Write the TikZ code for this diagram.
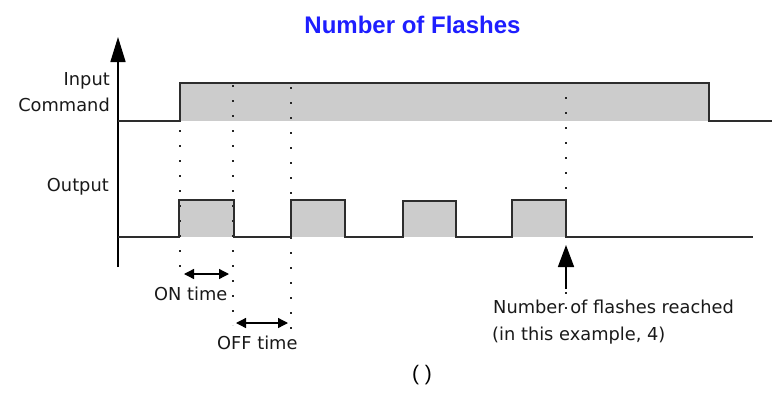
\documentclass[tikz,border=0pt]{standalone}
\usepackage{fontspec}
\setmainfont{DejaVu Sans}
\newfontfamily\titlefont{Liberation Sans}
\usetikzlibrary{arrows.meta}
\definecolor{ttlblue}{RGB}{30,30,255}
\definecolor{wave}{RGB}{45,45,45}
\definecolor{pulsefill}{RGB}{204,204,204}
\begin{document}
\begin{tikzpicture}[x=1pt,y=-1pt,
  wavestyle/.style={draw=wave,line width=1.6pt,line join=miter},
  fillstyle/.style={fill=pulsefill,draw=none},
  guide/.style={draw=black!85,line width=1.6pt,dash pattern=on 1.6pt off 13.4pt},
  lbl/.style={font=\fontsize{17.8}{20}\selectfont,inner sep=0pt,text=black!90},
  dimarrow/.style={draw=black,line width=1.3pt,{Triangle[length=10pt,width=10pt]}-{Triangle[length=10pt,width=10pt]}}
]
\useasboundingbox (0,0) rectangle (774,394);

% title
\node[anchor=base,inner sep=0pt,font=\titlefont\bfseries\fontsize{24}{28}\selectfont,text=ttlblue] (title) at (412.5,33) {Number of Flashes};

% fills
\path[fillstyle] (180,83) rectangle (709,121);
\path[fillstyle] (179,200) rectangle (234,237);
\path[fillstyle] (291,200) rectangle (345,237);
\path[fillstyle] (403,201) rectangle (456,237);
\path[fillstyle] (512,200) rectangle (566,237);

% dotted guide lines
\draw[guide] (180,130) -- (180,277);
\draw[guide] (233,85) -- (233,325);
\draw[guide] (291,87) -- (291,335);
\draw[guide] (566,97) -- (566,318);

% axis
\coordinate (axisbot) at (118,267);
\coordinate (axistop) at (118,37);
\draw[draw=black,line width=1.6pt,-{Triangle[length=25pt,width=15pt]}] (axisbot) -- (axistop);

% waveforms
\draw[wavestyle] (118,121) -- (180,121) -- (180,83) -- (709,83) -- (709,121) -- (772,121);
\draw[wavestyle] (118,237) -- (179,237) -- (179,200) -- (234,200) -- (234,237)
  -- (291,237) -- (291,200) -- (345,200) -- (345,237)
  -- (403,237) -- (403,201) -- (456,201) -- (456,237)
  -- (512,237) -- (512,200) -- (566,200) -- (566,237) -- (753,237);

% labels
\node[lbl,anchor=base east] (inp) at (110,85) {Input};
\node[lbl,anchor=base east] (cmd) at (110,111) {Command};
\node[lbl,anchor=base east] (outp) at (109,191) {Output};

% ON / OFF time
\coordinate (onl) at (184,274);
\coordinate (onr) at (229,274);
\draw[dimarrow] (onl) -- (onr);
\node[lbl,anchor=base west] (ontext) at (154,300) {ON time};
\coordinate (offl) at (236,323);
\coordinate (offr) at (288,323);
\draw[dimarrow] (offl) -- (offr);
\node[lbl,anchor=base west] (offtext) at (217,349) {OFF time};

% number of flashes arrow
\coordinate (flashtail) at (566,289);
\coordinate (flashtip) at (566,245);
\draw[draw=black,line width=1.6pt,-{Triangle[length=22pt,width=16pt]}] (flashtail) -- (flashtip);
\node[lbl,anchor=base west] (nf1) at (493,313) {Number of flashes reached};
\node[lbl,anchor=base west] (nf2) at (492,340) {(in this example, 4)};

% caption
\node[anchor=base,inner sep=0pt,font=\titlefont\fontsize{21}{24}\selectfont] (cap) at (422,380) {( )};
\end{tikzpicture}
\end{document}
